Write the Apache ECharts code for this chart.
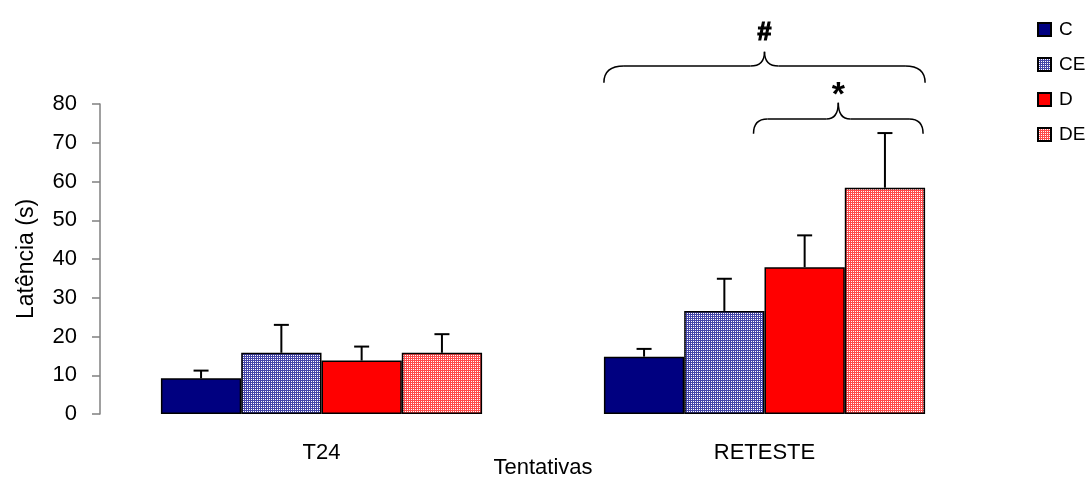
<!DOCTYPE html>
<html>
<head>
<meta charset="utf-8">
<script src="https://cdn.jsdelivr.net/npm/echarts@6/dist/echarts.min.js"></script>
<style>
html,body{margin:0;padding:0;background:#fff;}
#chart{width:1088px;height:478px;}
</style>
</head>
<body>
<div id="chart"></div>
<script>
const categories = ['T24', 'RETESTE'];
const seriesNames = ['C', 'CE', 'D', 'DE'];
const meanC  = [9.2, 14.8];
const meanCE = [15.8, 26.6];
const meanD  = [13.8, 37.9];
const meanDE = [15.8, 58.4];
const errC  = [2.0, 2.0];
const errCE = [7.2, 8.3];
const errD  = [3.6, 8.2];
const errDE = [4.8, 14.1];
const yTicks = [0, 80, 10];

const FONT = 'Liberation Sans, Arial, sans-serif';

function makePattern(base, dot) {
  const c = document.createElement('canvas');
  c.width = 2; c.height = 2;
  const ctx = c.getContext('2d');
  ctx.fillStyle = base; ctx.fillRect(0, 0, 2, 2);
  ctx.fillStyle = dot; ctx.fillRect(1, 1, 1, 1);
  return { image: c, repeat: 'repeat' };
}

const fills = [
  '#000080',
  makePattern('#4444a8', '#ffffff'),
  '#ff0000',
  makePattern('#ff4c4c', '#ffffff')
];
const means = [meanC, meanCE, meanD, meanDE];
const errs = [errC, errCE, errD, errDE];
const GAP = 0.275;

const chart = echarts.init(document.getElementById('chart'), null, { renderer: 'canvas' });

const series = [];
seriesNames.forEach((name, i) => {
  series.push({
    name: name,
    type: 'bar',
    data: means[i],
    barGap: '0%',
    barCategoryGap: (GAP * 100) + '%',
    itemStyle: { color: fills[i], borderColor: '#000', borderWidth: 1.5 },
    emphasis: { disabled: true },
    z: 2
  });
});
seriesNames.forEach((name, i) => {
  series.push({
    name: name + '_err',
    type: 'custom',
    data: means[i].map((v, k) => [k, v, errs[i][k]]),
    encode: { x: 0, y: 1 },
    z: 1,
    silent: true,
    renderItem: function (params, api) {
      const k = api.value(0), v = api.value(1), e = api.value(2);
      const p0 = api.coord([k, v]);
      const p1 = api.coord([k, v + e]);
      const band = api.size([1, 0])[0];
      const bw = band * (1 - GAP) / 4;
      const x = p0[0] + (i - 1.5) * bw;
      const cap = 7.5;
      return {
        type: 'group',
        children: [
          { type: 'line', shape: { x1: x, y1: p0[1], x2: x, y2: p1[1] }, style: { stroke: '#000', lineWidth: 2 } },
          { type: 'line', shape: { x1: x - cap, y1: p1[1], x2: x + cap, y2: p1[1] }, style: { stroke: '#000', lineWidth: 2 } }
        ]
      };
    }
  });
});

chart.setOption({
  animation: false,
  backgroundColor: '#fff',
  textStyle: { fontFamily: FONT },
  grid: { left: 100, right: 102, top: 104, bottom: 64, containLabel: false, outerBoundsMode: 'none' },
  legend: {
    data: seriesNames.map(n => ({ name: n })),
    orient: 'vertical',
    left: 1032,
    top: 15,
    itemWidth: 13,
    itemHeight: 13,
    itemGap: 16,
    icon: 'rect',
    textStyle: { fontFamily: FONT, fontSize: 19, color: '#000', padding: [0, 0, 0, 3] },
    selectedMode: false
  },
  xAxis: {
    type: 'category',
    data: categories,
    name: 'Tentativas',
    nameLocation: 'middle',
    nameGap: 43,
    nameMoveOverlap: false,
    nameTextStyle: { fontFamily: FONT, fontSize: 22, color: '#000', verticalAlign: 'top' },
    axisLine: { show: false },
    axisTick: { show: false },
    axisLabel: { margin: 28, fontFamily: FONT, fontSize: 22, color: '#000' }
  },
  yAxis: {
    type: 'value',
    min: yTicks[0],
    max: yTicks[1],
    interval: yTicks[2],
    name: 'Latência (s)',
    nameLocation: 'middle',
    nameGap: 62,
    nameRotate: 90,
    nameTextStyle: { fontFamily: FONT, fontSize: 23, color: '#000' },
    axisLine: { show: true, lineStyle: { color: '#808080', width: 1.5 } },
    axisTick: { show: true, length: 8, lineStyle: { color: '#808080', width: 1.5 } },
    axisLabel: { margin: 23, fontFamily: FONT, fontSize: 22, color: '#000' },
    splitLine: { show: false }
  },
  series: series
});

function drawBraces() {
  const c0 = chart.convertToPixel({ xAxisIndex: 0 }, 0);
  const c1 = chart.convertToPixel({ xAxisIndex: 0 }, 1);
  const band = c1 - c0;
  const bw = band * (1 - GAP) / 4;
  const Y = v => chart.convertToPixel({ yAxisIndex: 0 }, v);
  const st = { stroke: '#000', lineWidth: 1.5, fill: null };
  function brace(x1, x2, yEnd, yFlat, yPeak, r1, r2) {
    const xm = (x1 + x2) / 2;
    return [
      { type: 'bezierCurve', shape: { x1: x1, y1: yEnd, cpx1: x1, cpy1: yFlat, x2: x1 + r1, y2: yFlat }, style: st },
      { type: 'line', shape: { x1: x1 + r1, y1: yFlat, x2: xm - r2, y2: yFlat }, style: st },
      { type: 'bezierCurve', shape: { x1: xm - r2, y1: yFlat, cpx1: xm, cpy1: yFlat, x2: xm, y2: yPeak }, style: st },
      { type: 'bezierCurve', shape: { x1: xm, y1: yPeak, cpx1: xm, cpy1: yFlat, x2: xm + r2, y2: yFlat }, style: st },
      { type: 'line', shape: { x1: xm + r2, y1: yFlat, x2: x2 - r1, y2: yFlat }, style: st },
      { type: 'bezierCurve', shape: { x1: x2 - r1, y1: yFlat, cpx1: x2, cpy1: yFlat, x2: x2, y2: yEnd }, style: st }
    ];
  }
  const ax1 = c1 - 2 * bw, ax2 = c1 + 2 * bw;
  const bx1 = c1 - 11, bx2 = c1 + 2 * bw - 2;
  const els = []
    .concat(brace(ax1, ax2, Y(85.5), Y(89.8), Y(93.5), 20, 14))
    .concat(brace(bx1, bx2, Y(72.3), Y(76.1), Y(80.3), 14, 12));
  els.push({ type: 'text', x: (ax1 + ax2) / 2, y: Y(98.3),
    style: { text: '#', fontFamily: FONT, fontSize: 25, fontWeight: 'bold', fill: '#000', stroke: '#000', lineWidth: 1.2, textAlign: 'center', textVerticalAlign: 'middle' } });
  els.push({ type: 'text', x: (bx1 + bx2) / 2, y: Y(84.1) + 8,
    style: { text: '*', fontFamily: FONT, fontSize: 34, fontWeight: 'bold', fill: '#000', textAlign: 'center', textVerticalAlign: 'middle' } });
  chart.setOption({ graphic: els });
}
drawBraces();
</script>
</body>
</html>
